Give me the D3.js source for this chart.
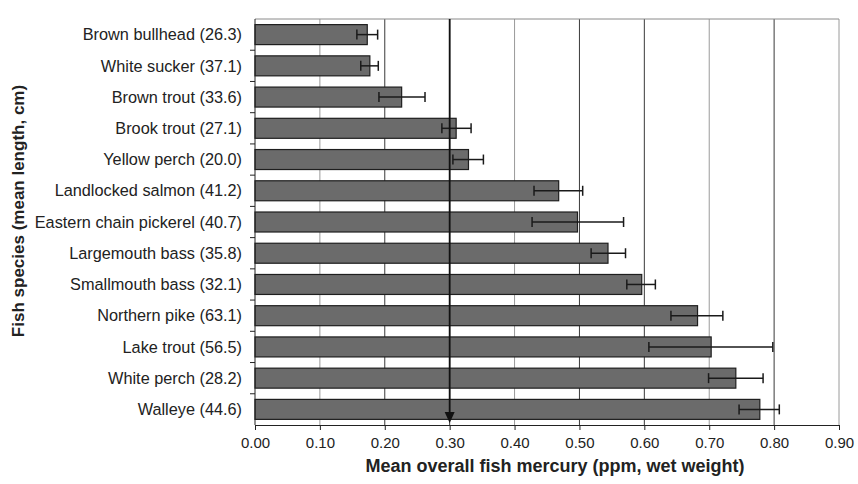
<!DOCTYPE html>
<html>
<head>
<meta charset="utf-8">
<script src="https://cdn.jsdelivr.net/npm/d3@7"></script>
<style>
  body { margin: 0; background: #fff; }
  text { font-family: "Liberation Sans", Arial, sans-serif; fill: #222; }
</style>
</head>
<body>
<div id="chart"></div>
<script>
var species = ["Brown bullhead (26.3)", "White sucker (37.1)", "Brown trout (33.6)",
  "Brook trout (27.1)", "Yellow perch (20.0)", "Landlocked salmon (41.2)",
  "Eastern chain pickerel (40.7)", "Largemouth bass (35.8)", "Smallmouth bass (32.1)",
  "Northern pike (63.1)", "Lake trout (56.5)", "White perch (28.2)", "Walleye (44.6)"];
var meanHg = [0.173, 0.177, 0.226, 0.310, 0.329, 0.468, 0.497, 0.544, 0.596, 0.682, 0.703, 0.741, 0.778];
var errLow = [0.157, 0.163, 0.191, 0.288, 0.305, 0.430, 0.427, 0.518, 0.573, 0.641, 0.607, 0.699, 0.746];
var errHigh = [0.189, 0.190, 0.262, 0.333, 0.352, 0.505, 0.568, 0.571, 0.617, 0.721, 0.798, 0.783, 0.808];
var xTicks = [0, 0.1, 0.2, 0.3, 0.4, 0.5, 0.6, 0.7, 0.8, 0.9];
var lightGrid = [0.1, 0.4, 0.7, 0.9];
var markValue = 0.3;

var margin = {top: 19, right: 19, bottom: 59, left: 255},
    width = 858 - margin.left - margin.right,
    height = 484 - margin.top - margin.bottom;

var data = species.map(function(s, i) {
  return {name: s, value: meanHg[i], lo: errLow[i], hi: errHigh[i]};
});

var x = d3.scaleLinear().domain([0, 0.9]).range([0, width]);
var y = d3.scaleBand().domain(species).range([0, height]).paddingInner(0.36).paddingOuter(0.18);

var svg = d3.select("#chart").append("svg")
    .attr("width", 858)
    .attr("height", 484)
  .append("g")
    .attr("transform", "translate(" + margin.left + "," + margin.top + ")");

// gridlines + top border
svg.append("g")
  .selectAll("line")
  .data(xTicks.slice(1))
  .enter().append("line")
    .attr("x1", function(d) { return x(d); })
    .attr("x2", function(d) { return x(d); })
    .attr("y1", 0)
    .attr("y2", height)
    .attr("stroke", function(d) { return lightGrid.indexOf(d) >= 0 ? "#9a9a9a" : "#3a3a3a"; })
    .attr("stroke-width", 1);

svg.append("line")
    .attr("x1", 0).attr("x2", width)
    .attr("y1", 0).attr("y2", 0)
    .attr("stroke", "#8a8a8a");

// bars
svg.append("g")
  .selectAll("rect")
  .data(data)
  .enter().append("rect")
    .attr("x", 0)
    .attr("y", function(d) { return y(d.name); })
    .attr("width", function(d) { return x(d.value); })
    .attr("height", y.bandwidth())
    .attr("fill", "#6b6b6b")
    .attr("stroke", "#1e1e1e")
    .attr("stroke-width", 1.2);

// error bars
var err = svg.append("g")
  .selectAll("g")
  .data(data)
  .enter().append("g")
    .attr("stroke", "#1a1a1a")
    .attr("stroke-width", 1.5);

err.append("line")
    .attr("x1", function(d) { return x(d.lo); })
    .attr("x2", function(d) { return x(d.hi); })
    .attr("y1", function(d) { return y(d.name) + y.bandwidth() / 2; })
    .attr("y2", function(d) { return y(d.name) + y.bandwidth() / 2; });

["lo", "hi"].forEach(function(k) {
  err.append("line")
      .attr("x1", function(d) { return x(d[k]); })
      .attr("x2", function(d) { return x(d[k]); })
      .attr("y1", function(d) { return y(d.name) + y.bandwidth() / 2 - 5; })
      .attr("y2", function(d) { return y(d.name) + y.bandwidth() / 2 + 5; });
});

// arrow at 0.30
svg.append("line")
    .attr("x1", x(markValue)).attr("x2", x(markValue))
    .attr("y1", 0).attr("y2", height - 10)
    .attr("stroke", "#111")
    .attr("stroke-width", 1.8);

svg.append("path")
    .attr("d", "M" + (x(markValue) - 5) + "," + (height - 13) + "L" + (x(markValue) + 5) + "," + (height - 13) + "L" + x(markValue) + "," + (height - 2) + "Z")
    .attr("fill", "#111");

// x axis
var xAxis = svg.append("g")
    .attr("transform", "translate(0," + height + ")")
    .call(d3.axisBottom(x).tickValues(xTicks).tickFormat(d3.format(".2f")).tickSize(5).tickSizeOuter(0));
xAxis.select(".domain").attr("stroke", "#222");
xAxis.selectAll(".tick line").attr("stroke", "#222");
xAxis.selectAll("text")
    .attr("font-size", 15)
    .attr("dy", "1em")
    .style("font-family", "'Liberation Sans', Arial, sans-serif");

// y axis: ticks at category boundaries
var yAxis = svg.append("g");
yAxis.append("line")
    .attr("x1", 0).attr("x2", 0)
    .attr("y1", 0).attr("y2", height)
    .attr("stroke", "#222");
yAxis.selectAll(".bnd")
  .data(species.slice(1))
  .enter().append("line")
    .attr("x1", -5).attr("x2", 0)
    .attr("y1", function(d) { return y(d) - y.step() * y.paddingInner() / 2; })
    .attr("y2", function(d) { return y(d) - y.step() * y.paddingInner() / 2; })
    .attr("stroke", "#222");
yAxis.selectAll(".lbl")
  .data(species)
  .enter().append("text")
    .attr("x", -13)
    .attr("y", function(d) { return y(d) + y.bandwidth() / 2; })
    .attr("dy", "0.35em")
    .attr("text-anchor", "end")
    .attr("font-size", 16.3)
    .text(function(d) { return d; });

// axis titles
svg.append("text")
    .attr("x", 300)
    .attr("y", height + 47)
    .attr("text-anchor", "middle")
    .attr("font-size", 18)
    .attr("font-weight", "bold")
    .text("Mean overall fish mercury (ppm, wet weight)");

svg.append("text")
    .attr("transform", "translate(" + (-231) + "," + (height / 2 - 11) + ") rotate(-90)")
    .attr("text-anchor", "middle")
    .attr("font-size", 17)
    .attr("font-weight", "bold")
    .text("Fish species (mean length, cm)");
</script>
</body>
</html>
